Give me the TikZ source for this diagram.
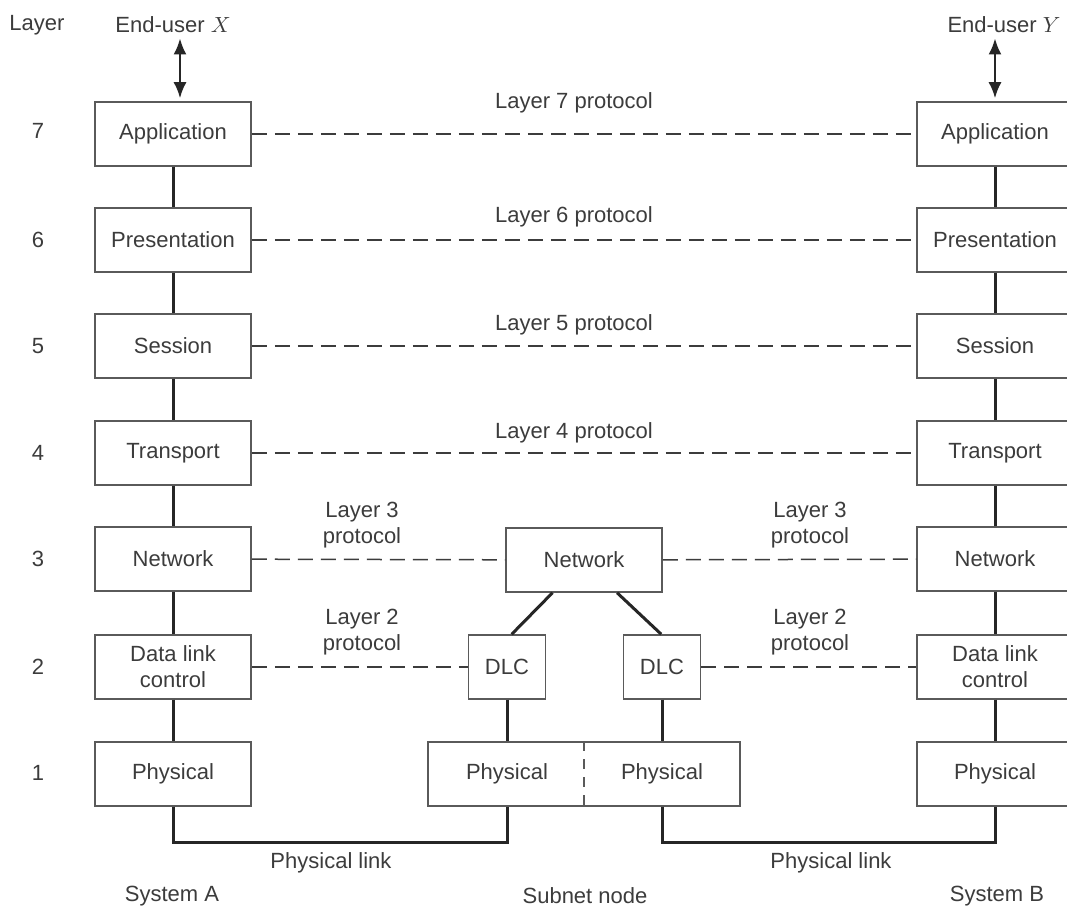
\documentclass[tikz,border=0pt]{standalone}
\usepackage{fontspec}
\setmainfont{Liberation Sans}
\usetikzlibrary{arrows.meta,calc}

\definecolor{inkgray}{HTML}{3C3C3C}
\definecolor{boxgray}{HTML}{5A5A5A}

\tikzset{
  layerbox/.style={draw=boxgray, line width=0.75pt, fill=white, minimum width=78pt,
    minimum height=32pt, inner sep=1pt, align=center, text=inkgray},
  dlcbox/.style={layerbox, minimum width=38.5pt},
  peer/.style={draw=inkgray, line width=0.75pt, dash pattern=on 7.5pt off 4pt},
  stack/.style={draw=black!85, line width=1.5pt},
  duplex/.style={draw=black!85, line width=1.1pt, {Latex[length=8pt,width=6.5pt]}-{Latex[length=8pt,width=6.5pt]}},
  lbl/.style={text=inkgray, align=center, inner sep=0pt},
}

\begin{document}
\begin{tikzpicture}[x=0.5pt, y=-0.5pt, font=\fontsize{11}{13}\selectfont]
      \useasboundingbox[fill=white] (0,0) rectangle (1067,908);
      \clip (0,0) rectangle (1067,908);

      % system A
      \node[layerbox] (a7) at (173,134) {Application};
      \node[layerbox] (a6) at (173,240) {Presentation};
      \node[layerbox] (a5) at (173,346) {Session};
      \node[layerbox] (a4) at (173,453) {Transport};
      \node[layerbox] (a3) at (173,559) {Network};
      \node[layerbox] (a2) at (173,667) {Data link\\control};
      \node[layerbox] (a1) at (173,774) {Physical};

      % system B
      \node[layerbox] (b7) at (995,134) {Application};
      \node[layerbox] (b6) at (995,240) {Presentation};
      \node[layerbox] (b5) at (995,346) {Session};
      \node[layerbox] (b4) at (995,453) {Transport};
      \node[layerbox] (b3) at (995,559) {Network};
      \node[layerbox] (b2) at (995,667) {Data link\\control};
      \node[layerbox] (b1) at (995,774) {Physical};

      % subnet node
      \node[layerbox] (s3) at (584,560) {Network};
      \node[dlcbox] (s2l) at (507,667) {DLC};
      \node[dlcbox] (s2r) at (662,667) {DLC};
      \node[layerbox, minimum width=156pt] (s1) at (584,774) {};
      \node[lbl] (s1l) at (507,774) {Physical};
      \node[lbl] (s1r) at (662,774) {Physical};
      \draw[boxgray, line width=0.6pt, dash pattern=on 5pt off 4pt] (s1.north) -- (s1.south);

      \foreach \u/\l in {7/6,6/5,5/4,4/3,3/2,2/1}
        \draw[stack] (a\u) -- (a\l) (b\u) -- (b\l);

      \draw[stack] ($(s3.south west)!0.3!(s3.south east)$) -- ($(s2l.north west)!0.56!(s2l.north east)$);
      \draw[stack] ($(s3.south west)!0.71!(s3.south east)$) -- ($(s2r.north west)!0.49!(s2r.north east)$);
      \draw[stack] (s2l) -- (s2l |- s1.north);
      \draw[stack] (s2r) -- (s2r |- s1.north);

      \draw[stack] (a1.south) -- ++(0,36) -| (s1.south -| s2l);
      \draw[stack] (s1.south -| s2r) -- ++(0,36) -| (b1.south);

      % peer protocols
      \draw[peer] (a7) -- (b7);
      \draw[peer] (a6) -- (b6);
      \draw[peer] (a5) -- (b5);
      \draw[peer] (a4) -- (b4);
      \draw[peer] (a3) -- (s3);
      \draw[peer] (s3) -- (b3);
      \draw[peer] (a2) -- (s2l);
      \draw[peer] (s2r) -- (b2);

      \node[lbl] (p7) at (574,103) {Layer 7 protocol};
      \node[lbl] (p6) at (574,217) {Layer 6 protocol};
      \node[lbl] (p5) at (574,325) {Layer 5 protocol};
      \node[lbl] (p4) at (574,433) {Layer 4 protocol};
      \node[lbl] (p3l) at (362,525) {Layer 3\\protocol};
      \node[lbl] (p3r) at (810,525) {Layer 3\\protocol};
      \node[lbl] (p2l) at (362,632) {Layer 2\\protocol};
      \node[lbl] (p2r) at (810,632) {Layer 2\\protocol};

      % end users
      \node[lbl] (userx) at (173,25) {End-user $X$};
      \node[lbl] (usery) at (1004,25) {End-user $Y$};
      \draw[duplex] ($(userx.south)+(7,5)$) -- ($(a7.north)+(7,-3)$);
      \draw[duplex] ($(b7.north |- usery.south)+(0,5)$) -- ($(b7.north)+(0,-3)$);

      % layer numbers
      \node[lbl] (layer) at (37,25) {Layer};
      \foreach \n/\y in {7/131,6/240,5/346,4/453,3/559,2/667,1/773}
        \node[lbl] (num\n) at (38,\y) {\n};

      \node[lbl] (linkl) at (331,863) {Physical link};
      \node[lbl] (linkr) at (831,863) {Physical link};
      \node[lbl] (sysa) at (172,896) {System A};
      \node[lbl] (subnet) at (585,896) {Subnet node};
      \node[lbl] (sysb) at (997,896) {System B};

\end{tikzpicture}
\end{document}
